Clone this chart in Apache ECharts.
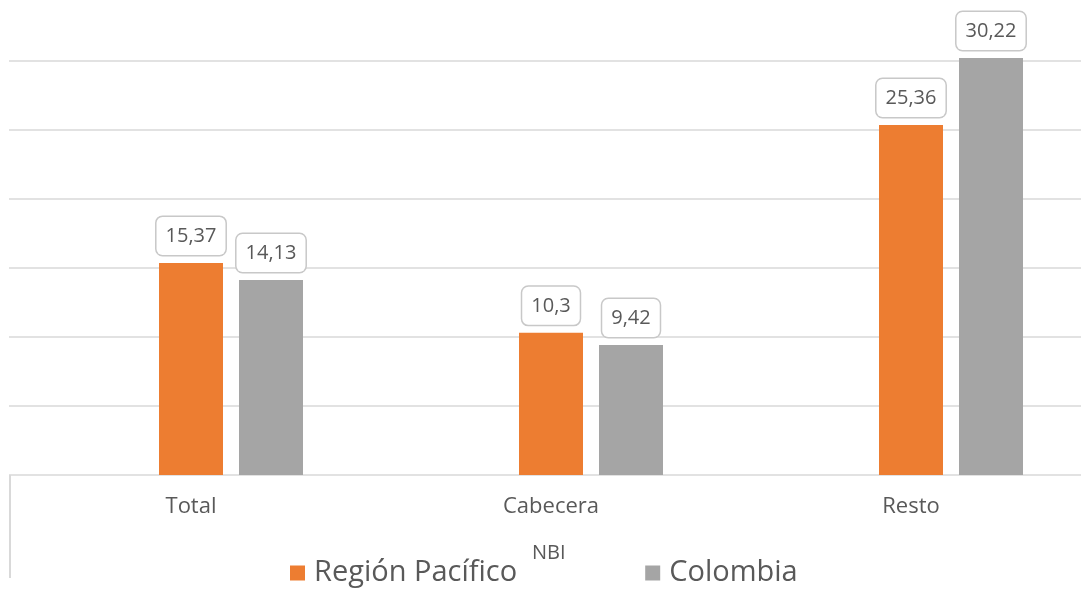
<!DOCTYPE html>
<html>
<head>
<meta charset="utf-8">
<script src="https://cdn.jsdelivr.net/npm/echarts@6/dist/echarts.min.js"></script>
<style>
  html, body { margin: 0; padding: 0; background: #fff; }
  #chart { width: 1081px; height: 594px; }
</style>
</head>
<body>
<div id="chart"></div>
<script>
const categories = ['Total', 'Cabecera', 'Resto']
const regionPacifico = [15.37, 10.3, 25.36]
const colombia = [14.13, 9.42, 30.22]
const seriesNames = ['Región Pacífico', 'Colombia']
const yMin = 0
const yMax = 30
const yStep = 5

const FONT = '"Open Sans", sans-serif'
const TEXT = '#595959'
const GRID_LINE = '#d9d9d9'

function formatComma(value) {
  return String(value).replace('.', ',')
}

const valueLabel = {
  show: true,
  position: 'top',
  distance: 8,
  formatter: p => formatComma(p.value),
  color: TEXT,
  fontFamily: FONT,
  fontSize: 20,
  lineHeight: 22,
  backgroundColor: '#fff',
  borderColor: '#c8c8c8',
  borderWidth: 1.5,
  borderRadius: 6,
  padding: [8, 9],
}

const chart = echarts.init(document.getElementById('chart'), null, { renderer: 'canvas' })

chart.setOption({
  animation: false,
  textStyle: { fontFamily: FONT },
  // grid 0 carries only the horizontal rules, grid 1 carries the bars
  // (the source picture is cropped on the right, so grid 1 runs past the edge)
  grid: [
    { left: 9, right: 0, top: 61, bottom: 119, outerBoundsMode: 'none' },
    { left: 51, right: -50, top: 61, bottom: 119, outerBoundsMode: 'none' },
  ],
  xAxis: [
    { gridIndex: 0, type: 'category', data: [''], show: false },
    {
      gridIndex: 1,
      type: 'category',
      data: categories,
      axisLine: { show: false },
      axisTick: { show: false },
      // category names sit under the first bar of each group in the source
      axisLabel: { color: TEXT, fontFamily: FONT, fontSize: 22, margin: 21, padding: [0, 80, 0, 0] },
    },
  ],
  yAxis: [
    {
      gridIndex: 0,
      type: 'value',
      min: yMin,
      max: yMax,
      interval: yStep,
      axisLabel: { show: false },
      axisLine: { show: false },
      axisTick: { show: false },
      splitLine: { lineStyle: { color: GRID_LINE, width: 1.5 } },
    },
    {
      gridIndex: 1,
      type: 'value',
      min: yMin,
      max: yMax,
      interval: yStep,
      show: false,
      splitLine: { show: false },
    },
  ],
  legend: {
    data: seriesNames,
    left: 290,
    top: 557,
    padding: 0,
    icon: 'rect',
    itemWidth: 15,
    itemHeight: 15,
    itemGap: 128,
    textStyle: { color: TEXT, fontFamily: FONT, fontSize: 29, lineHeight: 32, padding: [0, 0, 0, 4] },
  },
  title: {
    text: 'NBI',
    left: 532,
    top: 543,
    padding: 0,
    textStyle: { color: TEXT, fontFamily: FONT, fontSize: 20, fontWeight: 'normal' },
  },
  graphic: [
    {
      type: 'line',
      shape: { x1: 10, y1: 475, x2: 10, y2: 578 },
      style: { stroke: GRID_LINE, lineWidth: 2 },
      silent: true,
    },
  ],
  series: [
    {
      name: seriesNames[0],
      type: 'bar',
      xAxisIndex: 1,
      yAxisIndex: 1,
      data: regionPacifico,
      barWidth: 64,
      barGap: '25%',
      clip: false,
      itemStyle: { color: '#ED7D31' },
      label: valueLabel,
    },
    {
      name: seriesNames[1],
      type: 'bar',
      xAxisIndex: 1,
      yAxisIndex: 1,
      data: colombia,
      barWidth: 64,
      barGap: '25%',
      clip: false,
      itemStyle: { color: '#A5A5A5' },
      label: valueLabel,
    },
  ],
})
</script>
</body>
</html>
